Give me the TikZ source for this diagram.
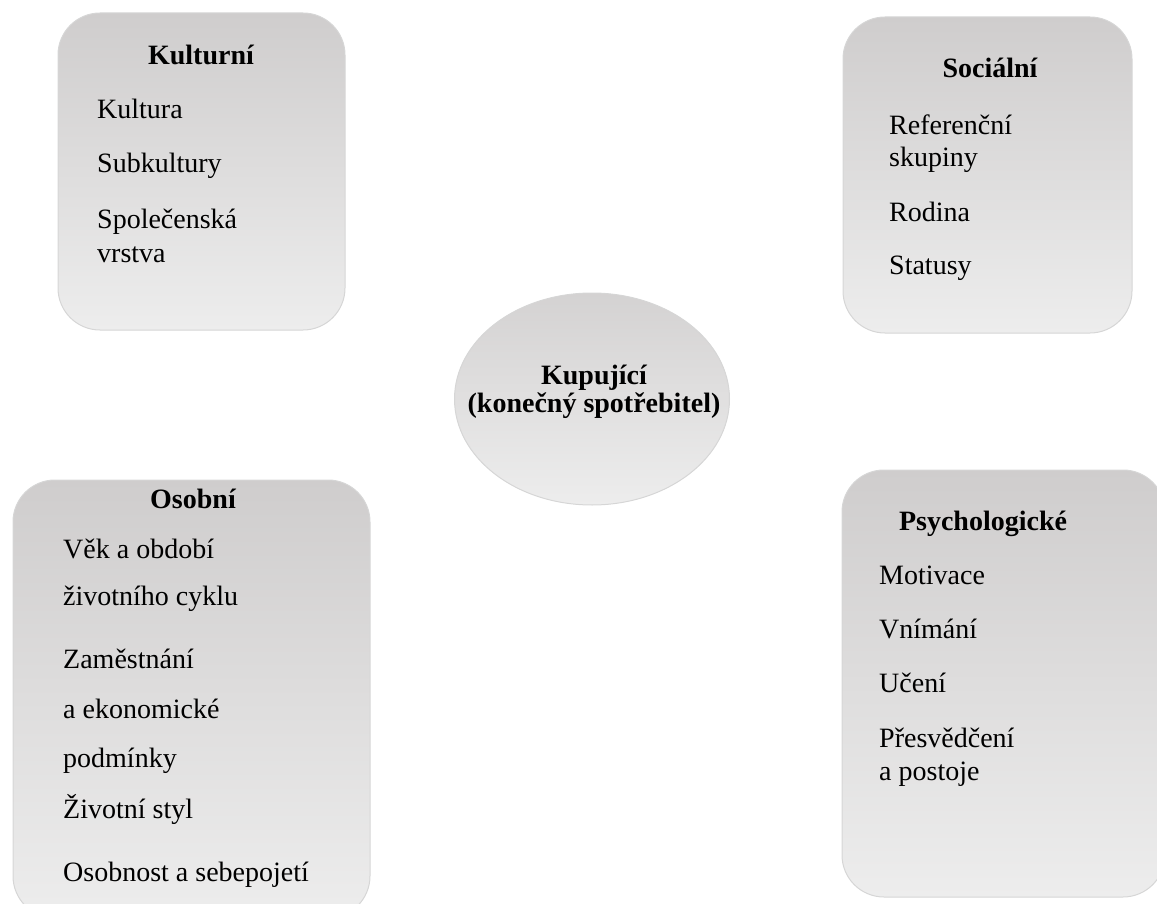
\documentclass[tikz,border=0pt]{standalone}
\usepackage{fontspec}
\setmainfont{Liberation Serif}
\usetikzlibrary{shapes.geometric}
\definecolor{topc}{RGB}{207,205,205}
\definecolor{botc}{RGB}{237,237,237}
\definecolor{edgec}{RGB}{214,214,214}
\tikzset{
  panel/.style={draw=edgec, line width=1pt, rounded corners=42pt, top color=topc, bottom color=botc, inner sep=0pt},
  hub/.style={ellipse, draw=edgec, line width=1pt, top color=topc!90!white, bottom color=botc, inner sep=0pt},
  item/.style={anchor=base west, inner sep=0pt, font=\fontsize{28}{33}\selectfont},
  head/.style={anchor=base, inner sep=0pt, font=\fontsize{28}{33}\selectfont\bfseries},
}
\begin{document}
\begin{tikzpicture}[x=1pt, y=-1pt]
\useasboundingbox (0,0) rectangle (1157,904);
\clip (0,0) rectangle (1157,904);
% panels
\node[panel, minimum width=287pt, minimum height=317pt] (kul) at (201.5,171.5) {};
\node[panel, minimum width=289pt, minimum height=316pt] (soc) at (987.5,175) {};
\node[panel, minimum width=357pt, minimum height=438pt] (oso) at (191.5,699) {};
\node[panel, minimum width=323pt, minimum height=427pt] (psy) at (1003.5,683.5) {};
\node[hub, minimum width=275pt, minimum height=212pt] (kup) at (592,399) {};
% Kulturni
\node[head] (kulh) at (201,65) {Kulturní};
\node[item] (k1) at (97,119) {Kultura};
\node[item] (k2) at (97,173) {Subkultury};
\node[item] (k3) at (97,229) {Společenská};
\node[item] (k4) at (97,262) {vrstva};
% Socialni
\node[head] (soch) at (990,78) {Sociální};
\node[item] (s1) at (889,135) {Referenční};
\node[item] (s2) at (889,167) {skupiny};
\node[item] (s3) at (889,222) {Rodina};
\node[item] (s4) at (889,275) {Statusy};
% Osobni
\node[head] (osoh) at (193,508) {Osobní};
\node[item] (o1) at (63,558) {Věk a období};
\node[item] (o2) at (63,605) {životního cyklu};
\node[item] (o3) at (63,668) {Zaměstnání};
\node[item] (o4) at (63,718) {a ekonomické};
\node[item] (o5) at (63,767) {podmínky};
\node[item] (o6) at (63,818) {Životní styl};
\node[item] (o7) at (63,881) {Osobnost a sebepojetí};
% Psychologicke
\node[head] (psyh) at (983,530) {Psychologické};
\node[item] (p1) at (879,584) {Motivace};
\node[item] (p2) at (879,638) {Vnímání};
\node[item] (p3) at (879,692) {Učení};
\node[item] (p4) at (879,747) {Přesvědčení};
\node[item] (p5) at (879,780) {a postoje};
% hub text
\node[head] (kupa) at (594,384) {Kupující};
\node[head] (kupb) at (594,412) {(konečný spotřebitel)};
\end{tikzpicture}
\end{document}
